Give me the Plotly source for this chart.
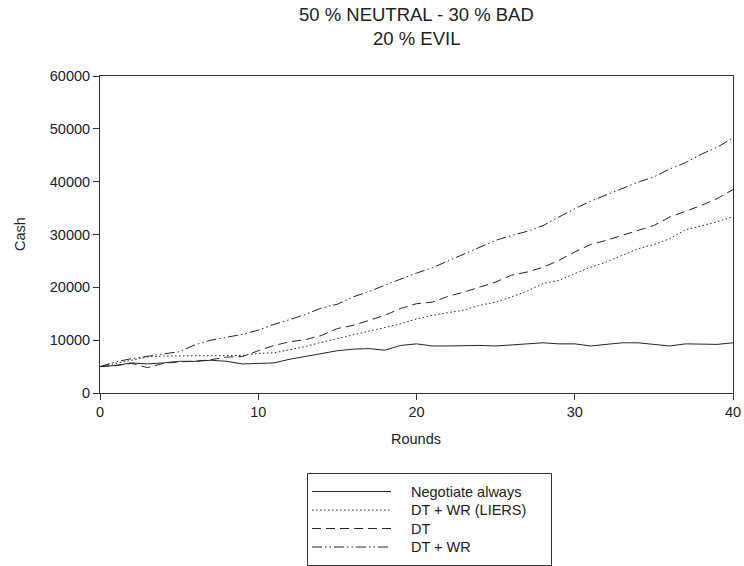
import plotly.graph_objects as go

rounds = list(range(41))

negotiate_always = [5000, 5200, 5700, 5500, 5700, 6000, 6000, 6200, 6000, 5500,
                    5600, 5700, 6400, 6900, 7400, 8000, 8300, 8400, 8100, 9000,
                    9300, 8900, 8900, 9000, 9000, 8900, 9100, 9200, 9500, 9300,
                    9300, 8900, 9200, 9500, 9500, 9200, 8900, 9300, 9200, 9200, 9500]

dt_wr_liers = [5000, 5600, 6300, 6800, 7000, 7000, 7000, 7000, 7000, 7100,
               7500, 7600, 8200, 8800, 9600, 10300, 10900, 11600, 12300, 13100,
               14000, 14700, 15200, 15700, 16600, 17200, 18200, 19300, 20700, 21300,
               22600, 23800, 24800, 26000, 27300, 28100, 29200, 30900, 31700, 32400, 33400]

dt = [5000, 5200, 5600, 4800, 5600, 5900, 6000, 6300, 6800, 6900,
      8000, 9000, 9700, 10100, 10900, 12200, 12800, 13800, 14700, 16000,
      16900, 17200, 18300, 19100, 20100, 21000, 22300, 22900, 23800, 25100,
      26700, 28100, 28900, 29800, 30800, 31700, 33300, 34400, 35500, 36800, 38500]

dt_wr = [5000, 5900, 6500, 7000, 7400, 7800, 9100, 10000, 10500, 11100,
         11900, 13000, 13900, 14900, 16100, 16800, 18200, 19200, 20400, 21600,
         22700, 23700, 25000, 26200, 27500, 28900, 29800, 30600, 31700, 33300,
         34900, 36300, 37500, 38600, 39900, 40900, 42400, 43600, 45200, 46500, 48300]

series_names = ["Negotiate always", "DT + WR (LIERS)", "DT", "DT + WR"]
series_values = [negotiate_always, dt_wr_liers, dt, dt_wr]
dashes = ["solid", "1.5px,2.5px", "9px,5px", "10px,3px,1.5px,3px,1.5px,3px"]

title_lines = ["50 % NEUTRAL - 30 % BAD", "20 % EVIL"]
x_ticks = [0, 10, 20, 30, 40]
y_ticks = [0, 10000, 20000, 30000, 40000, 50000, 60000]

W, H = 744, 566
ML, MR, MT, MB = 100, 11, 76, 173
PW, PH = W - ML - MR, H - MT - MB

def px_x(px):
    return (px - ML) / PW

def px_y(py):
    return (H - MB - py) / PH

LINE_COLOR = "#262626"
TEXT_COLOR = "#222222"
FONT = "Liberation Sans, Arial, sans-serif"

fig = go.Figure()
for name, vals, d in zip(series_names, series_values, dashes):
    fig.add_trace(go.Scatter(x=rounds, y=vals, mode="lines", name=name,
                             line=dict(color=LINE_COLOR, width=1, dash=d),
                             showlegend=False))

shapes = []
annotations = []
# title
annotations.append(dict(xref="paper", yref="paper", x=px_x(416), y=px_y(14),
                        xanchor="center", yanchor="middle", text=title_lines[0],
                        showarrow=False, font=dict(family=FONT, size=18.5, color=TEXT_COLOR)))
annotations.append(dict(xref="paper", yref="paper", x=px_x(416), y=px_y(38),
                        xanchor="center", yanchor="middle", text=title_lines[1],
                        showarrow=False, font=dict(family=FONT, size=18.5, color=TEXT_COLOR)))
# axis titles
annotations.append(dict(xref="paper", yref="paper", x=px_x(416), y=px_y(439),
                        xanchor="center", yanchor="middle", text="Rounds",
                        showarrow=False, font=dict(family=FONT, size=14.5, color=TEXT_COLOR)))
annotations.append(dict(xref="paper", yref="paper", x=px_x(20), y=px_y(234),
                        xanchor="center", yanchor="middle", text="Cash", textangle=-90,
                        showarrow=False, font=dict(family=FONT, size=14.5, color=TEXT_COLOR)))
# legend box
shapes.append(dict(type="rect", xref="paper", yref="paper",
                   x0=px_x(307.5), x1=px_x(551.5), y0=px_y(473.5), y1=px_y(565.5),
                   line=dict(color="#333333", width=1), fillcolor="white"))
row_y = [491.5, 510, 528.5, 547]
for name, d, ry in zip(series_names, dashes, row_y):
    shapes.append(dict(type="line", xref="paper", yref="paper",
                       x0=px_x(312), x1=px_x(391), y0=px_y(ry), y1=px_y(ry),
                       line=dict(color=LINE_COLOR, width=1.2, dash=d)))
    annotations.append(dict(xref="paper", yref="paper", x=px_x(409), y=px_y(ry),
                            xanchor="left", yanchor="middle", text=name, showarrow=False,
                            font=dict(family=FONT, size=14.5, color=TEXT_COLOR)))

fig.update_layout(
    width=W, height=H,
    margin=dict(l=ML, r=MR, t=MT, b=MB, pad=0, autoexpand=False),
    paper_bgcolor="white", plot_bgcolor="white",
    font=dict(family=FONT, size=14, color=TEXT_COLOR),
    shapes=shapes, annotations=annotations,
    xaxis=dict(range=[0, 40], tickvals=x_ticks, ticks="outside", ticklen=6,
               tickcolor="#333333", showline=True, linecolor="#333333", linewidth=1,
               mirror=True, showgrid=False, zeroline=False, automargin=False,
               tickfont=dict(family=FONT, size=14.5, color=TEXT_COLOR)),
    yaxis=dict(range=[0, 60000], tickvals=y_ticks, ticks="outside", ticklen=6,
               tickcolor="#333333", showline=True, linecolor="#333333", linewidth=1,
               mirror=True, showgrid=False, zeroline=False, tickformat="d",
               automargin=False,
               tickfont=dict(family=FONT, size=14.5, color=TEXT_COLOR)),
)

fig.write_html("out.html", config={"displayModeBar": False},
               post_script="document.body.style.margin='0';document.body.style.padding='0';")
